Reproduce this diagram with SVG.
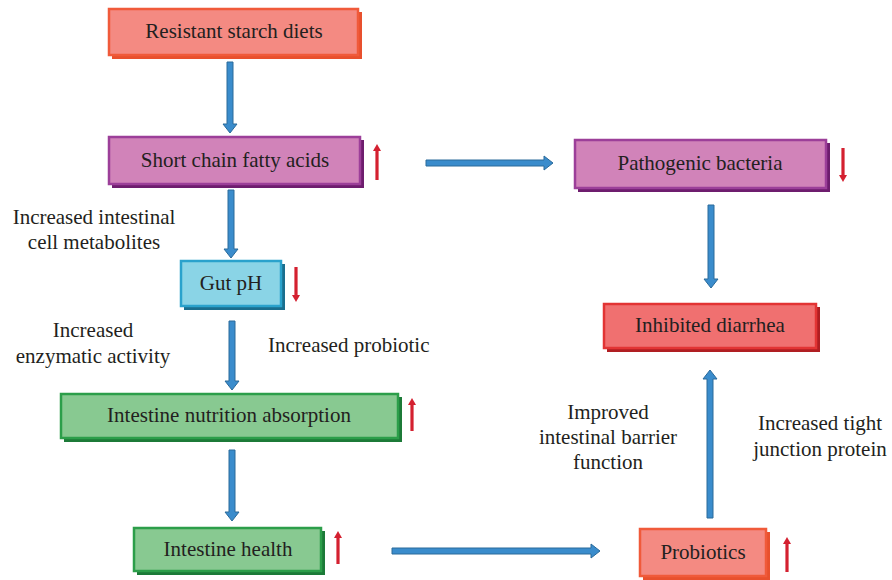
<svg xmlns="http://www.w3.org/2000/svg" width="892" height="580" viewBox="0 0 892 580">
<style>
text{font-family:"Liberation Serif","Times New Roman",serif;font-size:21px;fill:#231f20}
.c{text-anchor:middle}
.bl{fill:#3a8ccc;stroke:#2a6a9a;stroke-width:1}
.rd{stroke:#d42030;stroke-width:3.2;fill:none}
.rh{fill:#d42030}
.org .f{fill:#f48a82;stroke:#f05a3a;stroke-width:2.5}
.org .s{fill:#e8502e}
.pur .f{fill:#d183b9;stroke:#9c3f99;stroke-width:2.5}
.pur .s{fill:#6e1d6e}
.cy .f{fill:#8ad4e6;stroke:#2aa2cc;stroke-width:2.5}
.cy .s{fill:#1a6e8e}
.gr .f{fill:#88c991;stroke:#2c9e4a;stroke-width:2.5}
.gr .s{fill:#1c7a38}
.red .f{fill:#f07070;stroke:#e23434;stroke-width:2.5}
.red .s{fill:#b01e22}
</style>
<g id="n-rsd" class="org"><rect class="s" x="112" y="12" width="250" height="47"/><rect class="f" x="109" y="9" width="249" height="46"/><text class="c" x="234" y="38">Resistant starch diets</text></g>
<g id="n-scfa" class="pur"><rect class="s" x="112" y="140" width="252" height="48"/><rect class="f" x="109" y="137" width="251" height="47"/><text class="c" x="235" y="167">Short chain fatty acids</text></g>
<g id="n-patho" class="pur"><rect class="s" x="578" y="143" width="252" height="49"/><rect class="f" x="575" y="140" width="251" height="48"/><text class="c" x="700" y="170">Pathogenic bacteria</text></g>
<g id="n-ph" class="cy"><rect class="s" x="184" y="264" width="101" height="46"/><rect class="f" x="181" y="261" width="100" height="45"/><text class="c" x="231" y="290">Gut pH</text></g>
<g id="n-ina" class="gr"><rect class="s" x="64" y="397" width="338" height="45"/><rect class="f" x="61" y="394" width="337" height="44"/><text class="c" x="229" y="422">Intestine nutrition absorption</text></g>
<g id="n-ih" class="gr"><rect class="s" x="137" y="531" width="188" height="44"/><rect class="f" x="134" y="528" width="187" height="43"/><text class="c" x="228" y="556">Intestine health</text></g>
<g id="n-inhib" class="red"><rect class="s" x="607" y="307" width="213" height="45"/><rect class="f" x="604" y="304" width="212" height="44"/><text class="c" x="710" y="332">Inhibited diarrhea</text></g>
<g id="n-prob" class="org"><rect class="s" x="643" y="532" width="127" height="48"/><rect class="f" x="640" y="529" width="126" height="47"/><text class="c" x="703" y="559">Probiotics</text></g>
<g id="connectors">
<path class="bl" d="M227,62H233V124H237L230,133L223,124H227Z"/>
<path class="bl" d="M228,190H234V249H238L231,258L224,249H228Z"/>
<path class="bl" d="M229,321H235V381H239L232,390L225,381H229Z"/>
<path class="bl" d="M229,450H235V512H239L232,521L225,512H229Z"/>
<path class="bl" d="M426,160H544V156L553,163L544,170V166H426Z"/>
<path class="bl" d="M708,205H714V279H718L711,288L704,279H708Z"/>
<path class="bl" d="M707,518H713V379H717L710,370L703,379H707Z"/>
<path class="bl" d="M392,548H591V544L600,551L591,558V554H392Z"/>
</g>
<g id="indicators">
<line class="rd" x1="377" y1="180" x2="377" y2="150"/><path class="rh" d="M373,151L377,144L381,151Z"/>
<line class="rd" x1="843" y1="148" x2="843" y2="176"/><path class="rh" d="M839,175L843,182L847,175Z"/>
<line class="rd" x1="296" y1="267" x2="296" y2="296"/><path class="rh" d="M292,295L296,302L300,295Z"/>
<line class="rd" x1="412" y1="431" x2="412" y2="404"/><path class="rh" d="M408,405L412,398L416,405Z"/>
<line class="rd" x1="338" y1="564" x2="338" y2="537"/><path class="rh" d="M334,538L338,531L342,538Z"/>
<line class="rd" x1="787" y1="572" x2="787" y2="543"/><path class="rh" d="M783,544L787,537L791,544Z"/>
</g>
<g id="labels">
<text class="c" x="94" y="224">Increased intestinal</text>
<text class="c" x="94" y="249">cell metabolites</text>
<text class="c" x="93" y="337">Increased</text>
<text class="c" x="93" y="363">enzymatic activity</text>
<text x="268" y="352">Increased probiotic</text>
<text class="c" x="608" y="419">Improved</text>
<text class="c" x="608" y="444">intestinal barrier</text>
<text class="c" x="608" y="469">function</text>
<text class="c" x="820" y="430">Increased tight</text>
<text class="c" x="820" y="456">junction protein</text>
</g>
</svg>
